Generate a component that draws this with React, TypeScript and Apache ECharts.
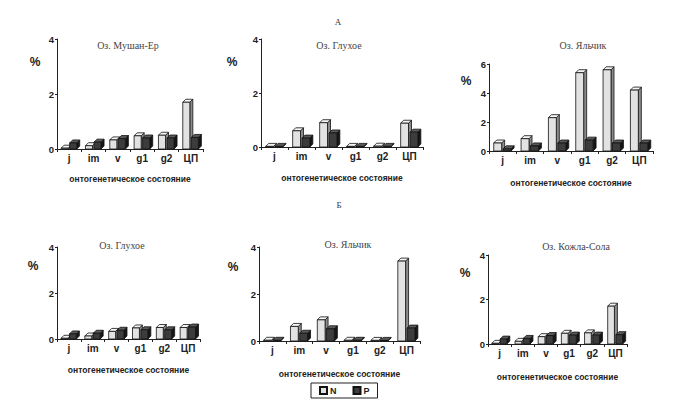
import React, { useEffect, useRef } from 'react';
import * as echarts from 'echarts';

const categories = ['j', 'im', 'v', 'g1', 'g2', 'ЦП'];

// Оз. Мушан-Ер (А)
const musanErN = [0.03, 0.12, 0.33, 0.48, 0.5, 1.7];
const musanErP = [0.22, 0.25, 0.38, 0.4, 0.4, 0.42];
// Оз. Глухое (А)
const glukhoeAN = [0.02, 0.6, 0.9, 0.02, 0.03, 0.88];
const glukhoeAP = [0.02, 0.33, 0.52, 0.02, 0.02, 0.55];
// Оз. Яльчик (А)
const yalchikAN = [0.55, 0.85, 2.3, 5.4, 5.6, 4.2];
const yalchikAP = [0.15, 0.35, 0.55, 0.75, 0.55, 0.55];
// Оз. Глухое (Б)
const glukhoeBN = [0.03, 0.13, 0.33, 0.48, 0.5, 0.5];
const glukhoeBP = [0.22, 0.25, 0.38, 0.4, 0.4, 0.52];
// Оз. Яльчик (Б)
const yalchikBN = [0.03, 0.62, 0.9, 0.03, 0.02, 3.4];
const yalchikBP = [0.03, 0.33, 0.52, 0.03, 0.02, 0.55];
// Оз. Кожла-Сола (Б)
const kozhlaN = [0.03, 0.12, 0.33, 0.48, 0.5, 1.7];
const kozhlaP = [0.22, 0.25, 0.38, 0.4, 0.4, 0.42];

const yTicksMax = [4, 4, 6, 4, 4, 4];

const panels = [
  { name: 'Оз. Мушан-Ер', n: musanErN, p: musanErP },
  { name: 'Оз. Глухое', n: glukhoeAN, p: glukhoeAP },
  { name: 'Оз. Яльчик', n: yalchikAN, p: yalchikAP },
  { name: 'Оз. Глухое', n: glukhoeBN, p: glukhoeBP },
  { name: 'Оз. Яльчик', n: yalchikBN, p: yalchikBP },
  { name: 'Оз. Кожла-Сола', n: kozhlaN, p: kozhlaP },
];

// layout: grid box, title centre, % centre, axis-name gap
const layout = [
  { grid: [57, 39, 146, 110], title: [128, 46], pct: [35, 63], gap: 25 },
  { grid: [261, 39, 162, 108], title: [339, 46], pct: [232, 63], gap: 26 },
  { grid: [489, 64, 164, 87], title: [583, 46], pct: [466, 82], gap: 27 },
  { grid: [57, 247, 143, 92], title: [122, 246], pct: [33, 267], gap: 26 },
  { grid: [259, 247, 161, 94], title: [348, 245], pct: [233, 268], gap: 28 },
  { grid: [488, 255, 139, 89], title: [576, 247], pct: [465, 274], gap: 28 },
];

const SANS = 'Liberation Sans, Arial, sans-serif';
const SERIF = 'Liberation Serif, Times New Roman, serif';

const colN = { front: '#e2e2e2', top: '#f4f4f4', side: '#8c8c8c' };
const colP = { front: '#3c3c3c', top: '#5a5a5a', side: '#161616' };

const bar3d = (side: 0 | 1, col: { front: string; top: string; side: string }) =>
  (params: any, api: any) => {
    const idx = api.value(0);
    const val = api.value(1);
    const top = api.coord([idx, val]);
    const base = api.coord([idx, 0]);
    const band = api.size([1, 0])[0];
    const w = band * 0.29;
    const d = 3;
    const x0 = side === 0 ? top[0] - w - 1 : top[0] + 0.5;
    const x1 = x0 + w;
    const yB = base[1];
    const yT = Math.min(top[1], yB - 0.6);
    const line = { stroke: '#111', lineWidth: 0.8 };
    return {
      type: 'group',
      children: [
        {
          type: 'polygon',
          shape: { points: [[x1, yB], [x1 + d, yB - d], [x1 + d, yT - d], [x1, yT]] },
          style: { fill: col.side, ...line },
        },
        {
          type: 'polygon',
          shape: { points: [[x0, yT], [x0 + d, yT - d], [x1 + d, yT - d], [x1, yT]] },
          style: { fill: col.top, ...line },
        },
        {
          type: 'rect',
          shape: { x: x0, y: yT, width: w, height: yB - yT },
          style: { fill: col.front, ...line },
        },
      ],
    };
  };

const App: React.FC = () => {
  const chartRef = useRef<HTMLDivElement>(null);

  useEffect(() => {
    if (!chartRef.current) return;
    const chart = echarts.init(chartRef.current, undefined, { renderer: 'svg' });

    const grids: any[] = [];
    const xAxes: any[] = [];
    const yAxes: any[] = [];
    const series: any[] = [];
    const titles: any[] = [
      { text: 'A', left: 338, top: 17, textAlign: 'center', padding: 0,
        textStyle: { fontFamily: SERIF, fontSize: 9, fontWeight: 'normal', color: '#333' } },
      { text: 'Б', left: 339, top: 200, textAlign: 'center', padding: 0,
        textStyle: { fontFamily: SERIF, fontSize: 9, fontWeight: 'normal', color: '#333' } },
    ];

    panels.forEach((pn, i) => {
      const L = layout[i];
      grids.push({ left: L.grid[0], top: L.grid[1], width: L.grid[2], height: L.grid[3] });
      xAxes.push({
        type: 'category',
        gridIndex: i,
        data: categories,
        name: 'онтогенетическое состояние',
        nameLocation: 'middle',
        nameGap: L.gap,
        nameTextStyle: { fontFamily: SANS, fontSize: 8.5, fontWeight: 'bold', color: '#222' },
        axisLine: { lineStyle: { color: '#222', width: 1 } },
        axisTick: { show: true, length: 3, lineStyle: { color: '#222' } },
        axisLabel: { fontFamily: SANS, fontSize: 10, fontWeight: 'bold', color: '#222', margin: 4 },
      });
      yAxes.push({
        type: 'value',
        gridIndex: i,
        min: 0,
        max: yTicksMax[i],
        interval: 2,
        splitLine: { show: false },
        axisLine: { show: true, lineStyle: { color: '#222', width: 1 } },
        axisTick: { show: true, length: 2, lineStyle: { color: '#222' } },
        axisLabel: { fontFamily: SANS, fontSize: 9.5, fontWeight: 'bold', color: '#222', margin: 3 },
      });
      series.push({
        type: 'custom',
        name: 'N',
        xAxisIndex: i,
        yAxisIndex: i,
        encode: { x: 0, y: 1 },
        itemStyle: { color: colN.front, borderColor: '#111', borderWidth: 1 },
        renderItem: bar3d(0, colN),
        data: pn.n.map((v, k) => [k, v]),
      });
      series.push({
        type: 'custom',
        name: 'P',
        xAxisIndex: i,
        yAxisIndex: i,
        encode: { x: 0, y: 1 },
        itemStyle: { color: colP.front, borderColor: '#111', borderWidth: 1 },
        renderItem: bar3d(1, colP),
        data: pn.p.map((v, k) => [k, v]),
      });
      titles.push({
        text: pn.name, left: L.title[0], top: L.title[1] - 6, textAlign: 'center', padding: 0,
        textStyle: { fontFamily: SERIF, fontSize: 10, fontWeight: 'normal', color: '#444' },
      });
      titles.push({
        text: '%', left: L.pct[0], top: L.pct[1] - 7, textAlign: 'center', padding: 0,
        textStyle: { fontFamily: SANS, fontSize: 12, fontWeight: 'bold', color: '#222' },
      });
    });

    chart.setOption({
      animation: false,
      backgroundColor: '#fff',
      title: titles,
      grid: grids,
      xAxis: xAxes,
      yAxis: yAxes,
      legend: {
        data: ['N', 'P'],
        left: 311,
        top: 383,
        padding: [3, 8, 3, 8],
        itemGap: 16,
        itemWidth: 7,
        itemHeight: 7,
        icon: 'rect',
        borderColor: '#222',
        borderWidth: 1,
        selectedMode: false,
        textStyle: { fontFamily: SANS, fontSize: 9, fontWeight: 'bold', color: '#222', padding: [0, 0, 0, -2] },
      },
      series,
    });

    return () => {
      chart.dispose();
    };
  }, []);

  return (
    <div
      ref={chartRef}
      style={{ position: 'fixed', left: 0, top: 0, width: '684px', height: '404px', background: '#fff' }}
    />
  );
};

export default App;
